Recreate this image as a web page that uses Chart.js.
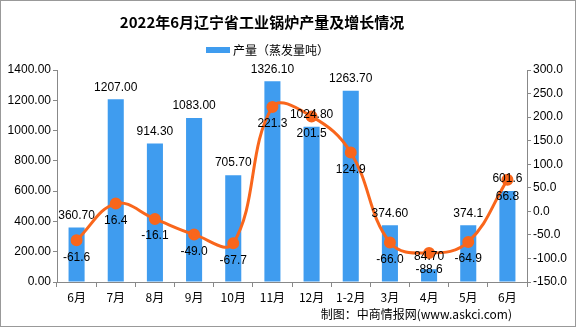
<!DOCTYPE html>
<html>
<head>
<meta charset="utf-8">
<script src="https://cdn.jsdelivr.net/npm/chart.js@4.4.0/dist/chart.umd.min.js"></script>
<style>
html,body{margin:0;padding:0;background:#fff;}
#wrap{width:576px;height:327px;position:relative;}
</style>
</head>
<body>
<div id="wrap"><canvas id="c" width="576" height="327"></canvas></div>
<script>
const categories = ['6月','7月','8月','9月','10月','11月','12月','1-2月','3月','4月','5月','6月'];
const production = [360.7, 1207.0, 914.3, 1083.0, 705.7, 1326.1, 1024.8, 1263.7, 374.6, 84.7, 374.1, 601.6];
const productionLabels = ['360.70','1207.00','914.30','1083.00','705.70','1326.10','1024.80','1263.70','374.60','84.70','374.1','601.6'];
const growth = [-61.6, 16.4, -16.1, -49.0, -67.7, 221.3, 201.5, 124.9, -66.0, -88.6, -64.9, 66.8];
const growthLabels = ['-61.6','16.4','-16.1','-49.0','-67.7','221.3','201.5','124.9','-66.0','-88.6','-64.9','66.8'];
const leftTicks = [0, 1400, 200];
const rightTicks = [-150, 300, 50];

const TICK_FONT = '12px "Liberation Sans", "DejaVu Sans", sans-serif';
const LABEL_FONT = '12px "Liberation Sans", "DejaVu Sans", sans-serif';
const CJK = '"Noto Sans CJK SC", "Noto Sans", sans-serif';

const decor = {
  id: 'decor',
  afterDraw(chart) {
    const ctx = chart.ctx;
    ctx.save();
    // bar value labels
    ctx.fillStyle = '#000';
    ctx.font = LABEL_FONT;
    ctx.textAlign = 'center';
    ctx.textBaseline = 'middle';
    const mb = chart.getDatasetMeta(0);
    mb.data.forEach((el, i) => {
      ctx.fillText(productionLabels[i], el.x, el.y - 12);
    });
    const ml = chart.getDatasetMeta(1);
    ml.data.forEach((el, i) => {
      ctx.fillText(growthLabels[i], el.x, el.y + 17);
    });
    // title
    ctx.font = 'bold 15px ' + CJK;
    ctx.fillText('2022年6月辽宁省工业锅炉产量及增长情况', 262, 22);
    // legend
    ctx.fillStyle = '#3F9CEF';
    ctx.fillRect(206, 47, 24, 6);
    ctx.fillStyle = '#000';
    ctx.textAlign = 'left';
    ctx.font = '12px ' + CJK;
    ctx.fillText('产量（蒸发量吨）', 233, 50);
    // footer
    ctx.textAlign = 'right';
    ctx.fillText('制图：中商情报网(www.askci.com)', 512, 314);
    // border
    ctx.strokeStyle = '#999';
    ctx.lineWidth = 1;
    ctx.strokeRect(0.5, 0.5, 575, 326);
    ctx.restore();
  }
};

new Chart(document.getElementById('c'), {
  data: {
    labels: categories,
    datasets: [
      {
        type: 'bar',
        label: '产量（蒸发量吨）',
        data: production,
        backgroundColor: '#3F9CEF',
        yAxisID: 'y',
        barPercentage: 0.82,
        categoryPercentage: 0.5,
        order: 2
      },
      {
        type: 'line',
        label: '增长',
        data: growth,
        borderColor: '#F9661C',
        backgroundColor: '#F9661C',
        borderWidth: 3,
        pointRadius: 4.5,
        pointBackgroundColor: '#F9661C',
        pointBorderColor: '#F9661C',
        tension: 0.4,
        yAxisID: 'y1',
        order: 1
      }
    ]
  },
  options: {
    responsive: false,
    animation: false,
    devicePixelRatio: 1,
    layout: { padding: { top: 70, left: 0, right: 0, bottom: 0 } },
    plugins: { legend: { display: false }, title: { display: false }, tooltip: { enabled: false } },
    scales: {
      x: {
        offset: true,
        grid: { offset: true, drawOnChartArea: false, tickLength: 5, color: '#888' },
        border: { color: '#888' },
        ticks: { color: '#000', font: { size: 12, family: CJK }, padding: 3, maxRotation: 0, autoSkip: false },
        afterFit(s) { s.height = 45; }
      },
      y: {
        position: 'left',
        min: leftTicks[0], max: leftTicks[1],
        ticks: { stepSize: leftTicks[2], color: '#000', font: { size: 12, family: '"Liberation Sans", sans-serif' }, padding: 2,
          callback: v => v.toFixed(2) },
        grid: { drawOnChartArea: false, tickLength: 4, color: '#888' },
        border: { color: '#888' },
        afterFit(s) { s.width = 57; }
      },
      y1: {
        position: 'right',
        min: rightTicks[0], max: rightTicks[1],
        ticks: { stepSize: rightTicks[2], color: '#000', font: { size: 12, family: '"Liberation Sans", sans-serif' }, padding: 2,
          callback: v => v.toFixed(1) },
        grid: { drawOnChartArea: false, tickLength: 4, color: '#888' },
        border: { color: '#888' },
        afterFit(s) { s.width = 49; }
      }
    }
  },
  plugins: [decor]
});
</script>
</body>
</html>
